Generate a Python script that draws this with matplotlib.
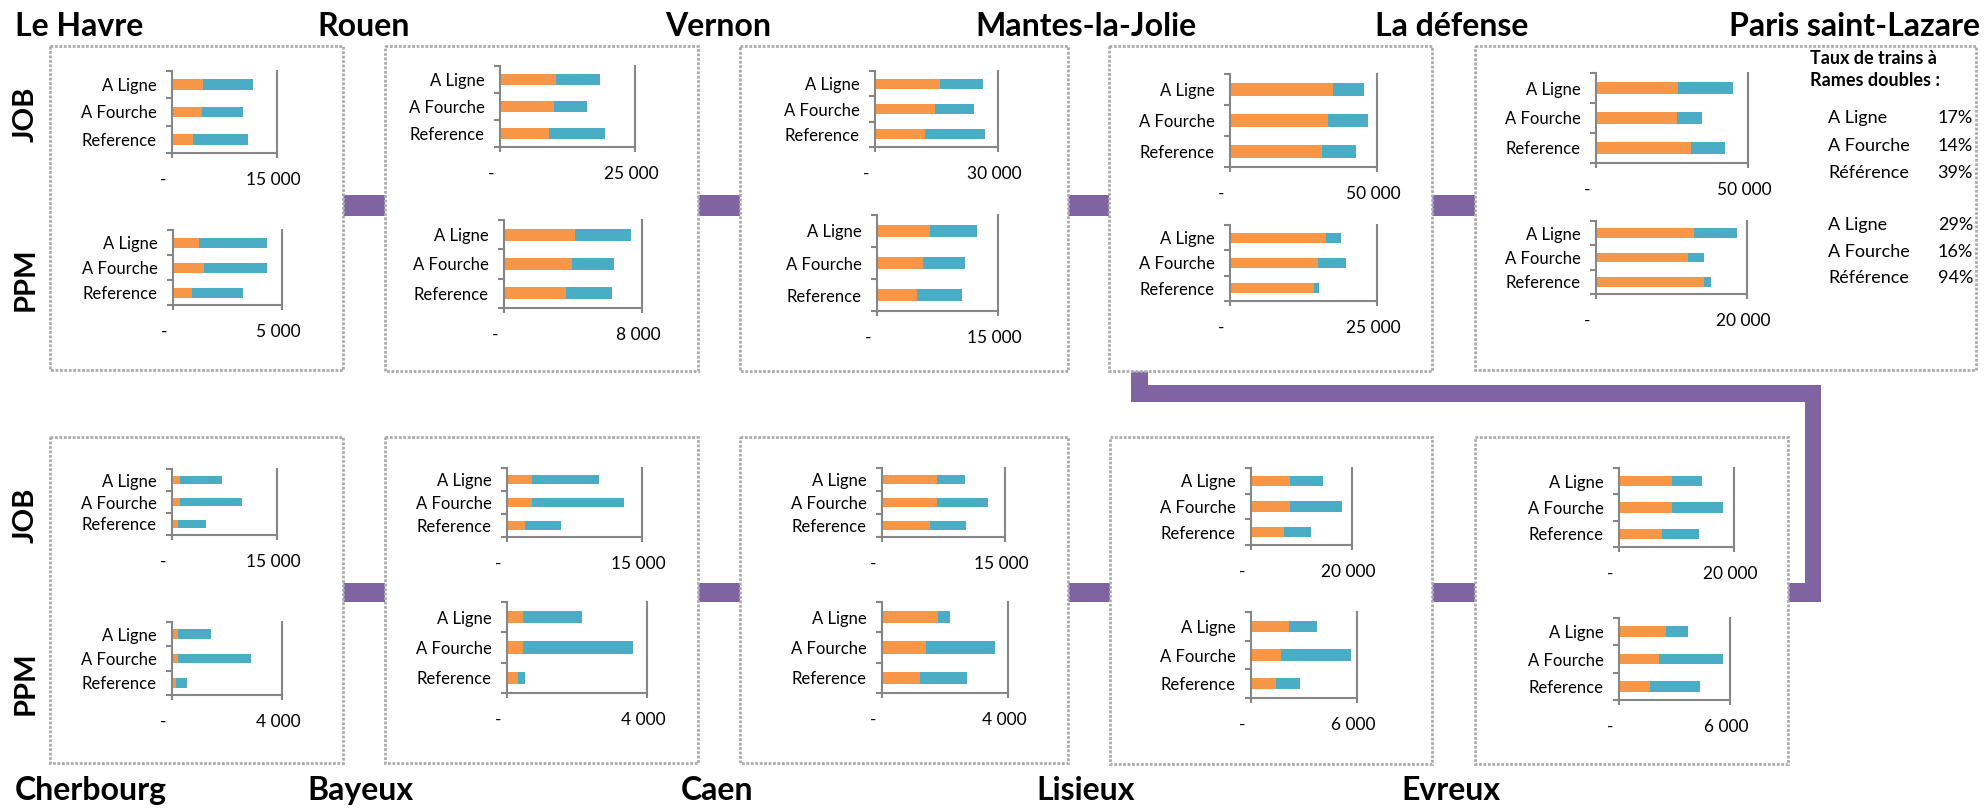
import matplotlib
matplotlib.use("Agg")
import matplotlib.pyplot as plt
from matplotlib.patches import Rectangle
from matplotlib.transforms import ScaledTranslation

plt.rcParams["font.family"] = ["Lato", "DejaVu Sans"]

W, H = 1984, 810

ORANGE = "#F79646"
BLUE = "#4BACC6"
PURPLE = "#8064A2"
AXIS_GREY = "#868686"
BOX_GREY = "#ababab"

categories = ["A Ligne", "A Fourche", "Reference"]

# each chart: (orange segment, blue segment) per category
le_havre_job = ([4430, 4290, 3000], [7140, 5850, 7860])
le_havre_ppm = ([1190, 1420, 870], [3120, 2890, 2340])
rouen_job = ([10440, 9930, 9010], [7990, 6230, 10430])
rouen_ppm = ([4120, 3930, 3620], [3220, 2420, 2620])
vernon_job = ([15830, 14720, 12180], [10410, 9520, 14610])
vernon_ppm = ([6520, 5730, 4940], [5900, 5170, 5620])
mantes_job = ([35000, 33180, 31250], [10450, 13640, 11480])
mantes_ppm = ([16310, 14940, 14320], [2500, 4830, 850])
paris_job = ([27010, 26670, 31140], [17970, 8260, 11160])
paris_ppm = ([13020, 12120, 14280], [5670, 2160, 900])
cherbourg_job = ([1180, 1180, 850], [5920, 8760, 3980])
cherbourg_ppm = ([220, 220, 145], [1210, 2665, 415])
bayeux_job = ([2820, 2820, 1960], [7400, 10170, 4030])
bayeux_ppm = ([465, 465, 320], [1675, 3135, 180])
caen_job = ([6700, 6700, 5820], [3410, 6210, 4450])
caen_ppm = ([1790, 1400, 1200], [380, 2200, 1510])
lisieux_job = ([7810, 7810, 6570], [6380, 10190, 5330])
lisieux_ppm = ([2135, 1675, 1405], [1620, 3975, 1350])
evreux_job = ([9170, 9170, 7520], [5210, 8930, 6450])
evreux_ppm = ([2540, 2180, 1665], [1205, 3435, 2720])

# axis maximum (JOB, PPM)
le_havre_max = (15000, 5000)
rouen_max = (25000, 8000)
vernon_max = (30000, 15000)
mantes_max = (50000, 25000)
paris_max = (50000, 20000)
cherbourg_max = (15000, 4000)
bayeux_max = (15000, 4000)
caen_max = (15000, 4000)
lisieux_max = (20000, 6000)
evreux_max = (20000, 6000)

top_stations = ["Le Havre", "Rouen", "Vernon", "Mantes-la-Jolie", "La défense", "Paris saint-Lazare"]
bottom_stations = ["Cherbourg", "Bayeux", "Caen", "Lisieux", "Evreux"]

taux_labels = ["A Ligne", "A Fourche", "Référence"]
taux_job = [17, 14, 39]
taux_ppm = [29, 16, 94]

# layout in pixels: box, JOB chart, PPM chart (x0, y0, x1, y1)
panels = [
    ((50, 46, 343, 370), (172, 71, 277, 153), (173, 230, 282, 305), le_havre_job, le_havre_ppm, le_havre_max),
    ((385, 46, 698, 371), (500, 66, 635, 147), (504, 220, 642, 308), rouen_job, rouen_ppm, rouen_max),
    ((740, 46, 1068, 371), (875, 71, 998, 147), (877, 215, 998, 311), vernon_job, vernon_ppm, vernon_max),
    ((1109, 46, 1432, 371), (1230, 74, 1377, 167), (1230, 225, 1377, 301), mantes_job, mantes_ppm, mantes_max),
    ((1475, 46, 1976, 370), (1596, 73, 1748, 163), (1596, 221, 1747, 294), paris_job, paris_ppm, paris_max),
    ((50, 437, 343, 763), (172, 469, 277, 535), (172, 622, 282, 695), cherbourg_job, cherbourg_ppm, cherbourg_max),
    ((385, 437, 698, 763), (507, 468, 642, 537), (507, 602, 647, 693), bayeux_job, bayeux_ppm, bayeux_max),
    ((740, 437, 1068, 763), (882, 468, 1005, 537), (882, 602, 1008, 693), caen_job, caen_ppm, caen_max),
    ((1110, 437, 1432, 764), (1251, 468, 1352, 545), (1251, 612, 1357, 698), lisieux_job, lisieux_ppm, lisieux_max),
    ((1475, 437, 1788, 764), (1619, 468, 1734, 547), (1619, 618, 1730, 700), evreux_job, evreux_ppm, evreux_max),
]


def fmt(v):
    if v == 0:
        return "-"
    return f"{v:,}".replace(",", " ")


def draw_chart(fig, rect, values, xmax):
    x0, y0, x1, y1 = rect
    ax = fig.add_axes([x0 / W, 1 - y1 / H, (x1 - x0) / W, (y1 - y0) / H], zorder=2)
    ax.patch.set_alpha(0)
    orange, blue = values
    pos = list(range(len(categories)))
    ax.barh(pos, orange, height=0.4, color=ORANGE, linewidth=0)
    ax.barh(pos, blue, left=orange, height=0.4, color=BLUE, linewidth=0)
    ax.set_xlim(0, xmax)
    ax.set_ylim(len(categories) - 0.5, -0.5)

    # tick marks between categories, labels centred on them
    ax.set_yticks([p - 0.5 for p in pos] + [pos[-1] + 0.5])
    ax.set_yticklabels([])
    ax.set_yticks(pos, minor=True)
    ax.set_yticklabels(categories, minor=True)
    ax.tick_params(axis="y", which="major", length=4.5, width=1.5, color=AXIS_GREY)
    ax.tick_params(axis="y", which="minor", length=0, pad=11, labelsize=12)

    ax.set_xticks([0, xmax])
    ax.set_xticklabels([fmt(0), fmt(xmax)])
    ax.tick_params(axis="x", length=3.6, width=1.5, color=AXIS_GREY, pad=10, labelsize=12.5)
    for lbl, dx in zip(ax.get_xticklabels(), (-6.5, -3)):
        lbl.set_transform(lbl.get_transform() + ScaledTranslation(dx / 72, 0, fig.dpi_scale_trans))

    ax.spines["top"].set_visible(False)
    for side in ("left", "bottom", "right"):
        ax.spines[side].set_color(AXIS_GREY)
        ax.spines[side].set_linewidth(1.5)
    return ax


fig = plt.figure(figsize=(W / 100, H / 100), dpi=100)
bg = fig.add_axes([0, 0, 1, 1], zorder=0)
bg.set_xlim(0, W)
bg.set_ylim(H, 0)
bg.axis("off")

# purple links between panels
links = [
    (343, 195, 385, 216), (698, 195, 740, 216), (1068, 195, 1109, 216), (1432, 195, 1475, 216),
    (343, 583, 385, 602), (698, 583, 740, 602), (1068, 583, 1110, 602), (1432, 583, 1475, 602),
    (1788, 583, 1821, 602), (1805, 385, 1821, 602), (1131, 385, 1821, 402), (1131, 370, 1148, 402),
]
for x0, y0, x1, y1 in links:
    bg.add_patch(Rectangle((x0, y0), x1 - x0, y1 - y0, facecolor=PURPLE, edgecolor="none"))

for box, job_rect, ppm_rect, job, ppm, maxima in panels:
    x0, y0, x1, y1 = box
    bg.add_patch(Rectangle((x0, y0), x1 - x0, y1 - y0, facecolor="white",
                           edgecolor=BOX_GREY, linewidth=2, linestyle=(0, (1, 0.6))))
    draw_chart(fig, job_rect, job, maxima[0])
    draw_chart(fig, ppm_rect, ppm, maxima[1])

# station names; the last one is anchored on the right edge
for name, x in zip(top_stations[:-1], [15, 317, 665, 975, 1375]):
    bg.text(x, 36, name, fontsize=23, fontweight="bold", va="baseline", ha="left")
bg.text(1980, 36, top_stations[-1], fontsize=23, fontweight="bold", va="baseline", ha="right")
for name, x in zip(bottom_stations, [15, 307, 681, 1036, 1401]):
    bg.text(x, 800, name, fontsize=23, fontweight="bold", va="baseline", ha="left")

# row labels
for label, y in [("JOB", 114), ("PPM", 279), ("JOB", 515), ("PPM", 683)]:
    bg.text(26, y, label, fontsize=21, fontweight="bold", rotation=90, ha="center", va="center")

# double-unit share
bg.text(1810, 58, "Taux de trains à", fontsize=13, fontweight="bold", va="center")
bg.text(1810, 80, "Rames doubles :", fontsize=13, fontweight="bold", va="center")
for rates, ys in [(taux_job, [118, 146, 173]), (taux_ppm, [225, 252, 278])]:
    for label, rate, y in zip(taux_labels, rates, ys):
        bg.text(1828, y, label, fontsize=13, va="center", ha="left")
        bg.text(1973, y, f"{rate}%", fontsize=13, va="center", ha="right")

fig.savefig("out.png", dpi=100)
